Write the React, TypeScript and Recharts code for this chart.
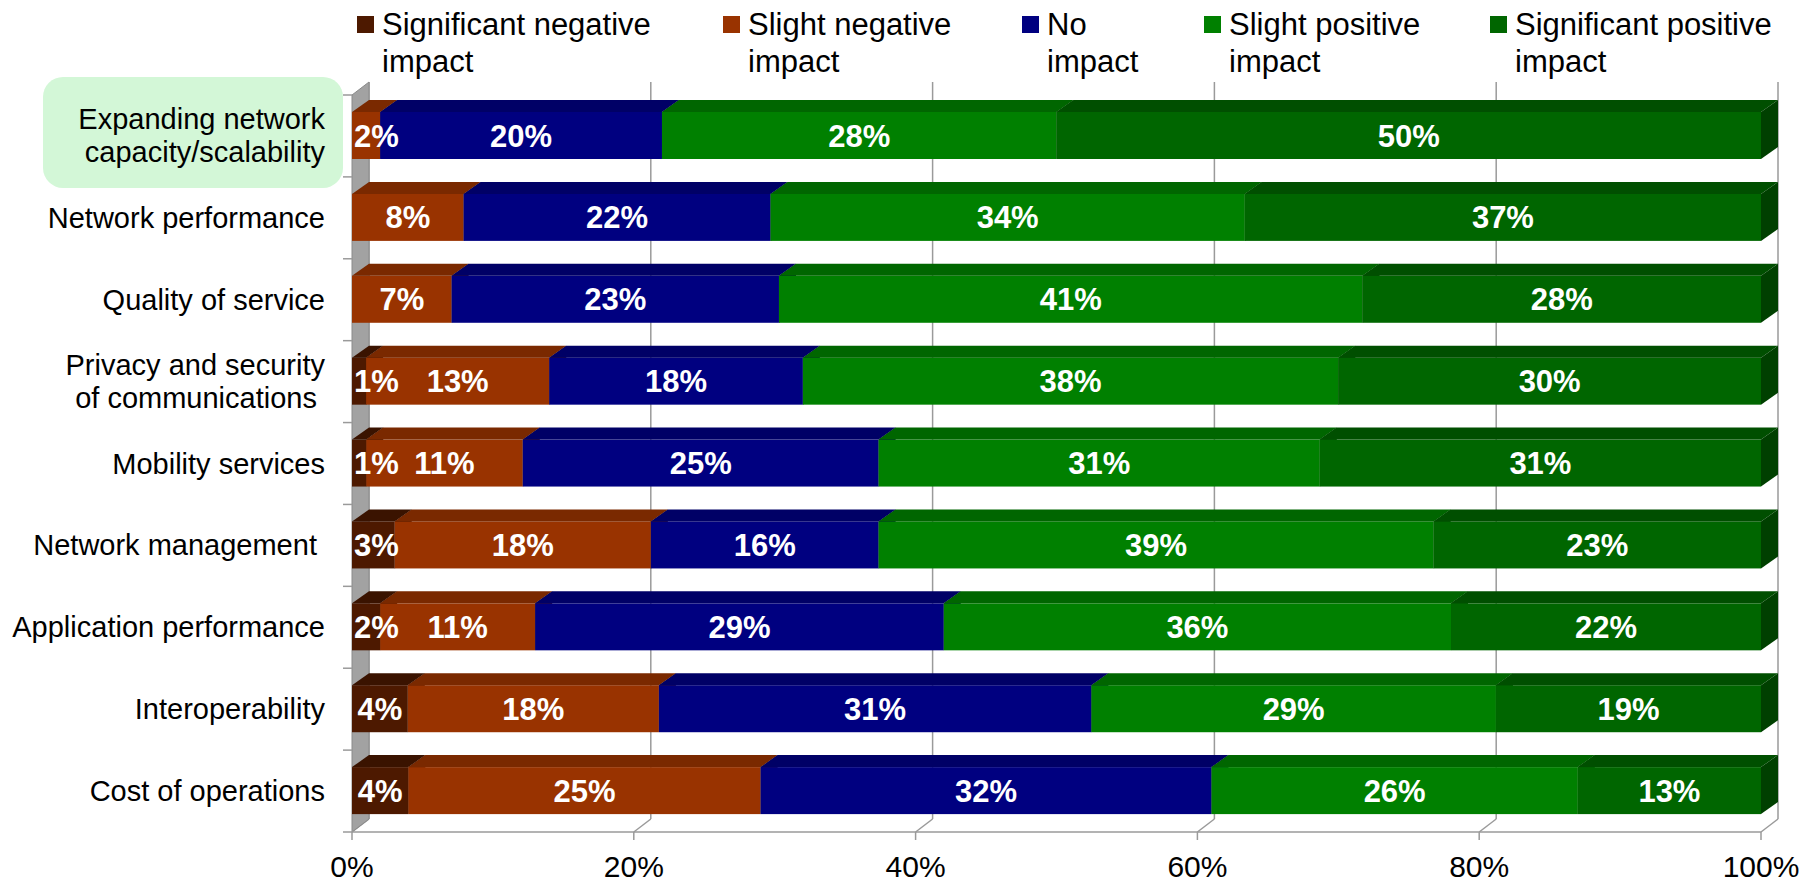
import { Bar, BarChart, CartesianGrid, LabelList, ReferenceArea, XAxis, YAxis } from "recharts";

// Survey answers, one entry per row (percent of respondents)
const CATEGORIES = [
  "Expanding network\ncapacity/scalability",
  "Network performance",
  "Quality of service",
  "Privacy and security\nof communications ",
  "Mobility services",
  "Network management ",
  "Application performance",
  "Interoperability",
  "Cost of operations",
];
const SIGNIFICANT_NEGATIVE = [0, 0, 0, 1, 1, 3, 2, 4, 4];
const SLIGHT_NEGATIVE = [2, 8, 7, 13, 11, 18, 11, 18, 25];
const NO_IMPACT = [20, 22, 23, 18, 25, 16, 29, 31, 32];
const SLIGHT_POSITIVE = [28, 34, 41, 38, 31, 39, 36, 29, 26];
const SIGNIFICANT_POSITIVE = [50, 37, 28, 30, 31, 23, 22, 19, 13];
const X_TICKS = [0, 0.2, 0.4, 0.6, 0.8, 1];

const SERIES = [
  { key: "sigNeg", name: "Significant negative impact", values: SIGNIFICANT_NEGATIVE },
  { key: "slightNeg", name: "Slight negative impact", values: SLIGHT_NEGATIVE },
  { key: "none", name: "No impact", values: NO_IMPACT },
  { key: "slightPos", name: "Slight positive impact", values: SLIGHT_POSITIVE },
  { key: "sigPos", name: "Significant positive impact", values: SIGNIFICANT_POSITIVE },
];

// front / top / side face colours of the extruded bars
const FACE_COLORS: Record<string, [string, string, string]> = {
  sigNeg: ["#4d1900", "#3a1300", "#2e0f00"],
  slightNeg: ["#993300", "#7a2900", "#622100"],
  none: ["#000080", "#000066", "#000052"],
  slightPos: ["#008000", "#006600", "#005200"],
  sigPos: ["#006600", "#004f00", "#004000"],
};

const LEGEND_X = [357, 723, 1022, 1204, 1490];

const FONT = "'Liberation Sans', Arial, sans-serif";
const DX = 17;
const DY = 12;
const WALL_DY = 13;
const GRID = "#9a9a9a";

const data = CATEGORIES.map((name, i) => {
  const row: Record<string, string | number> = { name };
  SERIES.forEach((s) => {
    row[s.key] = s.values[i];
  });
  return row;
});

function Bar3D(props: any) {
  const { x, y, width, height, fill, top, side } = props;
  if (!width || width <= 0) return null;
  const r = x + width;
  const b = y + height;
  return (
    <g>
      <rect x={x} y={y} width={width} height={height} fill={fill} />
      <polygon points={`${x},${y} ${x + DX},${y - DY} ${r + DX},${y - DY} ${r},${y}`} fill={top} />
      <polygon points={`${r},${y} ${r + DX},${y - DY} ${r + DX},${b - DY} ${r},${b}`} fill={side} />
    </g>
  );
}

const LABEL_SIZE = 31;

function renderValueLabel(props: any) {
  const box = props.viewBox ?? props;
  const { x, y, width, height } = box;
  const v = Number(props.value);
  if (!v) return null;
  const textW = (String(v).length * 0.556 + 0.889) * LABEL_SIZE;
  const cx = x + Math.max(width / 2, textW / 2 + 2);
  return (
    <text
      x={cx}
      y={y + height / 2 + 11}
      textAnchor="middle"
      fill="#ffffff"
      fontFamily={FONT}
      fontWeight="bold"
      fontSize={LABEL_SIZE}
    >
      {`${v}%`}
    </text>
  );
}

function CategoryTick(props: any) {
  const { x, y, payload, index, visibleTicksCount } = props;
  const half = payload.offset ?? 41;
  const lines = String(payload.value).split("\n");
  const lineH = 33;
  const firstBase = y - ((lines.length - 1) * lineH) / 2 + 10;
  return (
    <g>
      {index === 0 && <rect x={x - 282} y={y - 59} width={300} height={111} rx={20} fill="#d3f7d7" />}
      <line x1={x + 18} x2={x + 27} y1={y - half} y2={y - half} stroke={GRID} strokeWidth={1.5} />
      {index === visibleTicksCount - 1 && (
        <line x1={x + 18} x2={x + 27} y1={y + half} y2={y + half} stroke={GRID} strokeWidth={1.5} />
      )}
      <text textAnchor="end" fontFamily={FONT} fontSize={29} fill="#000" style={{ whiteSpace: "pre" }}>
        {lines.map((line, i) => (
          <tspan key={i} x={x} y={firstBase + i * lineH}>
            {line}
          </tspan>
        ))}
      </text>
    </g>
  );
}

function PercentTick(props: any) {
  const { x, y, payload } = props;
  return (
    <text x={x} y={y + 35} textAnchor="middle" fontFamily={FONT} fontSize={30} fill="#000">
      {`${Math.round(payload.value * 100)}%`}
    </text>
  );
}

// back-wall gridline plus its diagonal across the floor
function DepthGridLine(props: any) {
  const { x1, y1, y2 } = props;
  return (
    <g key={props.key}>
      <line x1={x1 + DX} x2={x1 + DX} y1={y1 - WALL_DY} y2={y2 - WALL_DY} stroke={GRID} strokeWidth={1.5} />
      <line x1={x1} x2={x1 + DX} y1={y2} y2={y2 - WALL_DY} stroke={GRID} strokeWidth={1.5} />
    </g>
  );
}

function SideWall(props: any) {
  const { x, y, height } = props;
  const b = y + height;
  return (
    <polygon
      points={`${x},${y} ${x + DX},${y - WALL_DY} ${x + DX},${b - WALL_DY} ${x},${b}`}
      fill="#a2a2a2"
      stroke="#8a8a8a"
      strokeWidth={1}
    />
  );
}

function Legend() {
  return (
    <>
      {SERIES.map((s, i) => {
        const cut = s.name.lastIndexOf(" ");
        return (
          <div key={s.key}>
            <div
              style={{
                position: "absolute",
                left: LEGEND_X[i],
                top: 16,
                width: 17,
                height: 17,
                background: FACE_COLORS[s.key][0],
              }}
            />
            <div
              style={{
                position: "absolute",
                left: LEGEND_X[i] + 25,
                top: 6,
                fontFamily: FONT,
                fontSize: 31,
                lineHeight: "37px",
                color: "#000",
                whiteSpace: "pre",
              }}
            >
              {s.name.slice(0, cut) + "\n" + s.name.slice(cut + 1)}
            </div>
          </div>
        );
      })}
    </>
  );
}

export default function App() {
  return (
    <div style={{ position: "absolute", left: 0, top: 0, width: 1819, height: 884, background: "#fff" }}>
      <BarChart
        width={1819}
        height={884}
        data={data}
        layout="vertical"
        stackOffset="expand"
        margin={{ top: 95, right: 58, left: 0, bottom: 0 }}
      >
        <CartesianGrid horizontal={false} vertical={DepthGridLine} />
        <ReferenceArea x1={0} x2={1} ifOverflow="visible" shape={SideWall} />
        <XAxis
          type="number"
          domain={[0, 1]}
          ticks={X_TICKS}
          height={52}
          tickSize={8}
          tickMargin={2}
          stroke={GRID}
          tickLine={{ stroke: GRID, strokeWidth: 1.5 }}
          axisLine={{ stroke: GRID, strokeWidth: 1.5 }}
          tick={PercentTick}
        />
        <YAxis
          type="category"
          dataKey="name"
          width={352}
          interval={0}
          tickSize={9}
          tickMargin={18}
          tickLine={false}
          axisLine={false}
          tick={CategoryTick}
        />
        {SERIES.map((s) => (
          <Bar
            key={s.key}
            dataKey={s.key}
            name={s.name}
            stackId="impact"
            barSize={47}
            fill={FACE_COLORS[s.key][0]}
            isAnimationActive={false}
            shape={(p: any) => <Bar3D {...p} top={FACE_COLORS[s.key][1]} side={FACE_COLORS[s.key][2]} />}
          >
            <LabelList dataKey={s.key} content={renderValueLabel} />
          </Bar>
        ))}
      </BarChart>
      <Legend />
    </div>
  );
}
